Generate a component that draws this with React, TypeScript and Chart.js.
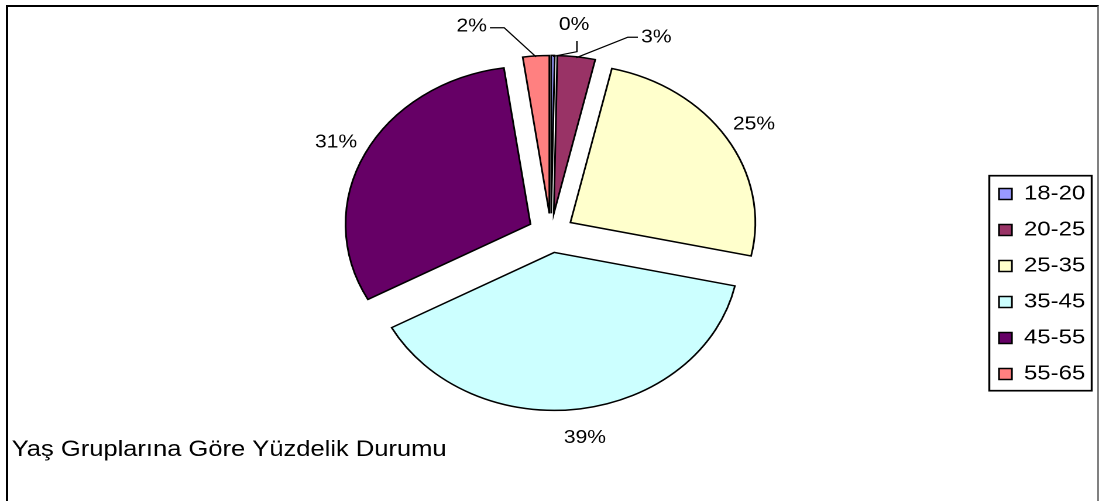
import React, { useEffect, useRef } from 'react';
import { Chart, registerables } from 'chart.js';

Chart.register(...registerables);

// ---- data ----
const CATEGORIES = ['18-20', '20-25', '25-35', '35-45', '45-55', '55-65'];
const SHARES = [0.3, 3.3, 24.8, 38.7, 30.6, 2.3];
const COLORS = ['#9999FF', '#993366', '#FFFFCC', '#CCFFFF', '#660066', '#FF8080'];
const CAPTION = 'Yaş Gruplarına Göre Yüzdelik Durumu';

// ---- layout / style (canvas units; the canvas is stretched horizontally on screen) ----
const FONT = "'Liberation Sans', Arial, Helvetica, sans-serif";
const CANVAS_W = 939;
const CANVAS_H = 501;
const SCREEN_W = 1099;
const RADIUS = 158;
const EXPLODE = 19.6;
const LABEL_R = 205.5;
const LABEL_SIZE = 18;
const LABEL_SHIFT: [number, number][] = [[17.8, -4], [64.8, 7.2], [0, 0], [0, 0], [0, 0], [-53, -3]];
const LEADERS: ([number, number][] | null)[] = [
  [[2.4, 17.5], [2.4, 28.2]],
  [[-15.7, 1], [-24.3, 1]],
  null,
  null,
  null,
  [[15.6, 2.7], [27.8, 2.7]],
];

const explodePlugin = {
  id: 'explodeSlices',
  afterUpdate(chart: any) {
    const meta = chart.getDatasetMeta(0);
    meta.data.forEach((arc: any) => {
      const mid = (arc.startAngle + arc.endAngle) / 2;
      arc.x += Math.cos(mid) * EXPLODE;
      arc.y += Math.sin(mid) * EXPLODE;
    });
  },
};

const labelPlugin = {
  id: 'sliceLabels',
  afterDatasetsDraw(chart: any) {
    const ctx = chart.ctx;
    const area = chart.chartArea;
    const cx = (area.left + area.right) / 2;
    const cy = (area.top + area.bottom) / 2;
    const total = SHARES.reduce((a, b) => a + b, 0);
    const meta = chart.getDatasetMeta(0);
    ctx.save();
    ctx.font = `${LABEL_SIZE}px ${FONT}`;
    ctx.fillStyle = '#000';
    ctx.strokeStyle = '#000';
    ctx.lineWidth = 1.2;
    ctx.textAlign = 'center';
    ctx.textBaseline = 'alphabetic';
    meta.data.forEach((arc: any, i: number) => {
      const mid = (arc.startAngle + arc.endAngle) / 2;
      const lx = cx + Math.cos(mid) * LABEL_R + LABEL_SHIFT[i][0];
      const ly = cy + Math.sin(mid) * LABEL_R + LABEL_SHIFT[i][1];
      const text = Math.round((SHARES[i] / total) * 100) + '%';
      ctx.fillText(text, lx, ly + LABEL_SIZE * 0.358);
      const leader = LEADERS[i];
      if (leader) {
        const ex = arc.x + Math.cos(mid) * (arc.outerRadius - 1);
        const ey = arc.y + Math.sin(mid) * (arc.outerRadius - 1);
        ctx.beginPath();
        ctx.moveTo(lx + leader[0][0], ly + leader[0][1]);
        ctx.lineTo(lx + leader[1][0], ly + leader[1][1]);
        ctx.lineTo(ex, ey);
        ctx.stroke();
      }
    });
    ctx.restore();
  },
};

const framePlugin = {
  id: 'legendFrameAndCaption',
  afterDraw(chart: any) {
    const ctx = chart.ctx;
    ctx.save();
    const boxes = chart.legend && chart.legend.legendHitBoxes;
    if (boxes && boxes.length) {
      const first = boxes[0];
      const last = boxes[boxes.length - 1];
      let right = 0;
      boxes.forEach((b: any) => { right = Math.max(right, b.left + b.width); });
      const left = first.left - 8.3;
      const top = first.top + first.height / 2 - 18.3;
      const bottom = last.top + last.height / 2 + 16.7;
      ctx.strokeStyle = '#000';
      ctx.lineWidth = 1.7;
      ctx.strokeRect(left, top, right + 5.5 - left, bottom - top);
    }
    ctx.fillStyle = '#000';
    ctx.font = `21.8px ${FONT}`;
    ctx.textAlign = 'left';
    ctx.textBaseline = 'alphabetic';
    ctx.fillText(CAPTION, 10, 456);
    ctx.restore();
  },
};

export default function App() {
  const ref = useRef<HTMLCanvasElement>(null);
  useEffect(() => {
    const chart = new Chart(ref.current as HTMLCanvasElement, {
      type: 'pie',
      data: {
        labels: CATEGORIES,
        datasets: [
          {
            data: SHARES,
            backgroundColor: COLORS,
            borderColor: '#000',
            borderWidth: 1.5,
            borderJoinStyle: 'miter',
            radius: RADIUS,
          } as any,
        ],
      },
      options: {
        responsive: false,
        animation: false,
        devicePixelRatio: 2,
        events: [],
        layout: { padding: { left: 103.5, right: 1.75, top: 66.25, bottom: 101.25 } },
        plugins: {
          legend: {
            display: true,
            position: 'right',
            align: 'end',
            fullSize: false,
            labels: {
              boxWidth: 11,
              boxHeight: 11,
              padding: 15.5,
              color: '#000',
              font: { family: FONT, size: 20.5 },
            },
          },
          title: { display: false },
          tooltip: { enabled: false },
        },
      } as any,
      plugins: [explodePlugin, labelPlugin, framePlugin],
    });
    return () => chart.destroy();
  }, []);

  return (
    <div
      style={{
        position: 'fixed',
        left: 0,
        top: 0,
        width: SCREEN_W,
        height: CANVAS_H,
        overflow: 'hidden',
        background: '#fff',
      }}
    >
      <canvas
        ref={ref}
        width={CANVAS_W}
        height={CANVAS_H}
        style={{ position: 'absolute', left: 0, top: 0, width: `${SCREEN_W}px`, height: `${CANVAS_H}px` }}
      />
      <div
        style={{
          position: 'absolute',
          left: 6,
          top: 5,
          width: 1093,
          height: 600,
          boxSizing: 'border-box',
          borderLeft: '2px solid #000',
          borderTop: '2px solid #000',
          borderRight: '2px solid #808080',
          pointerEvents: 'none',
        }}
      />
    </div>
  );
}
